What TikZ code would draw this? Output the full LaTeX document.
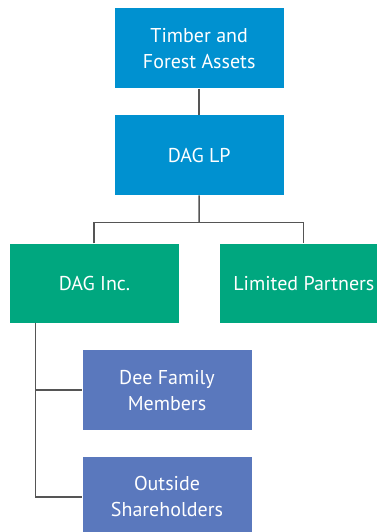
\documentclass[tikz,border=0pt]{standalone}
\usepackage{fontspec}
\setmainfont{PT Sans}
\begin{document}
\begin{tikzpicture}[x=1pt,y=-1pt,
  box/.style={rectangle, inner sep=0pt, align=center, text=white,
    font=\fontsize{20}{26}\selectfont, anchor=north west},
  bluebox/.style={box, fill=blueA},
  greenbox/.style={box, fill=greenA},
  violetbox/.style={box, fill=violetA},
  conn/.style={draw=lineC, line width=1.5pt}]
\definecolor{blueA}{HTML}{0091D0}
\definecolor{greenA}{HTML}{00A77F}
\definecolor{violetA}{HTML}{5A78BD}
\definecolor{lineC}{HTML}{555555}
\useasboundingbox (0,0) rectangle (376,532);
\node[bluebox, minimum width=168.6pt, minimum height=80pt] (timber) at (114.7,8.3) {Timber and\\Forest Assets};
\node[bluebox, minimum width=168.6pt, minimum height=80pt] (lp) at (114.7,115) {DAG LP};
\node[greenbox, minimum width=168.7pt, minimum height=79.4pt] (inc) at (10,243.3) {DAG Inc.};
\node[greenbox, minimum width=168.8pt, minimum height=79.4pt] (partners) at (219.3,243.3) {Limited Partners};
\node[violetbox, minimum width=169pt, minimum height=80pt] (dee) at (82.3,350) {Dee Family\\Members};
\node[violetbox, minimum width=169pt, minimum height=80pt] (outside) at (82.3,456.7) {Outside\\Shareholders};
\coordinate (split) at (199,222.3);
\coordinate (incTop) at (94,243.3);
\coordinate (partTop) at (303.7,243.3);
\coordinate (trunkTop) at (35.7,322.7);
\draw[conn] (timber.south) -- (lp.north);
\draw[conn] (lp.south) -- (split);
\draw[conn] (incTop) |- (split) -| (partTop);
\draw[conn] (trunkTop) |- (outside.west);
\draw[conn] (trunkTop) |- (dee.west);
\end{tikzpicture}
\end{document}
